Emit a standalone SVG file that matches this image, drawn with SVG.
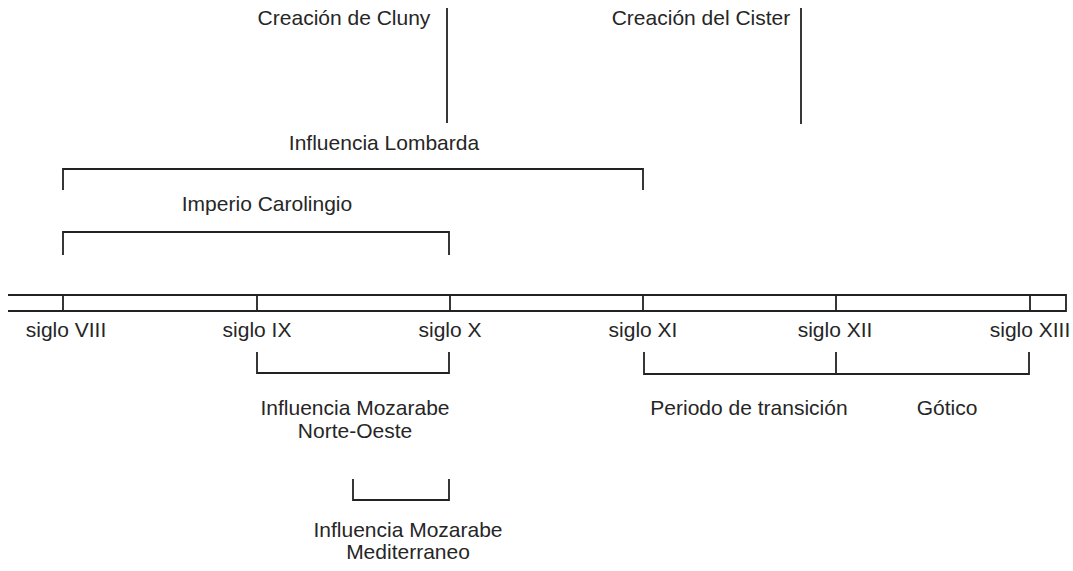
<svg xmlns="http://www.w3.org/2000/svg" width="1073" height="571" viewBox="0 0 1073 571">
<style>
text{font-family:"Liberation Sans",Arial,sans-serif;font-size:21px;fill:#262626;text-anchor:middle}
.ln{stroke:#222;stroke-width:1.8;fill:none}
</style>
<rect width="1073" height="571" fill="#fff"/>
<g id="connectors">
<path class="ln" d="M447 8V123"/>
<path class="ln" d="M801 8V124"/>
<path class="ln" d="M63 190V169H643V190"/>
<path class="ln" d="M63 255V232H449V255"/>
<path class="ln" d="M257 352V373H449V352"/>
<path class="ln" d="M353 479V500H449V479"/>
<path class="ln" d="M644 352V374H1029V352M836 352V374"/>
</g>
<g id="timeline">
<path class="ln" d="M8 295H1066V311H8"/>
<path class="ln" d="M63 295V311M257 295V311M450 295V311M643 295V311M836 295V311M1030 295V311"/>
</g>
<g id="cluny"><text x="344" y="25">Creación de Cluny</text></g>
<g id="cister"><text x="701" y="25">Creación del Cister</text></g>
<g id="lombarda"><text x="384" y="150">Influencia Lombarda</text></g>
<g id="carolingio"><text x="267" y="211">Imperio Carolingio</text></g>
<g id="s8"><text x="66" y="337">siglo VIII</text></g>
<g id="s9"><text x="257" y="337">siglo IX</text></g>
<g id="s10"><text x="450" y="337">siglo X</text></g>
<g id="s11"><text x="643" y="337">siglo XI</text></g>
<g id="s12"><text x="835" y="337">siglo XII</text></g>
<g id="s13"><text x="1030" y="337">siglo XIII</text></g>
<g id="mozno"><text x="355" y="415">Influencia Mozarabe</text><text x="355" y="438">Norte-Oeste</text></g>
<g id="mozmed"><text x="408" y="537">Influencia Mozarabe</text><text x="408" y="559">Mediterraneo</text></g>
<g id="transicion"><text x="749" y="415">Periodo de transición</text></g>
<g id="gotico"><text x="947" y="415">Gótico</text></g>
</svg>
